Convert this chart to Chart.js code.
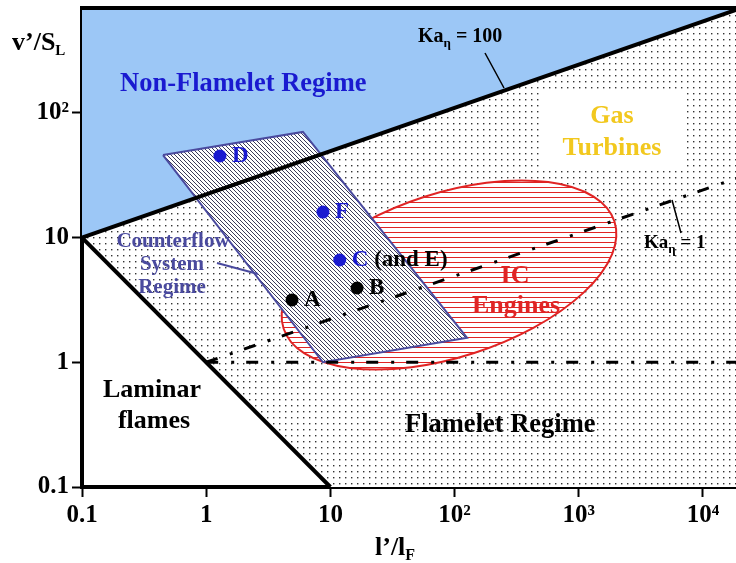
<!DOCTYPE html>
<html>
<head>
<meta charset="utf-8">
<script src="https://cdn.jsdelivr.net/npm/chart.js@4.4.1/dist/chart.umd.min.js"></script>
<style>
  body { margin: 0; background: #fff; }
  canvas { display: block; }
</style>
</head>
<body>
<canvas id="regime" width="736" height="563"></canvas>
<script>
// axis ranges and ticks (both axes logarithmic)
const xRange = [0.1, 18450];
const yRange = [0.1, 693];
const xTickValues = [0.1, 1, 10, 100, 1000, 10000];
const xTickLabels = ["0.1", "1", "10", "10²", "10³", "10⁴"];
const yTickValues = [0.1, 1, 10, 100];
const yTickLabels = ["0.1", "1", "10", "10²"];

// regime boundaries
const ka100Line = [[0.1, 10], [18450, 668]];
const laminarLine = [[0.1, 10], [10, 0.1]];
const ka1Line = [[1, 1], [18450, 29.8]];
const unityLine = [[1, 1], [18450, 1]];

// counterflow system regime corners
const counterflowBox = [[0.449, 45.9], [6.01, 70.3], [126, 1.57], [8.71, 1.0]];

// IC engines ellipse: centre, half axes in decades, tilt in degrees
const icCentre = [90.2, 5.01];
const icAxes = [1.40, 0.66];
const icTilt = 17.9;

// experiment points
const pointNames = ["A", "B", "C", "D", "F"];
const pointX = [4.91, 16.4, 11.9, 1.29, 8.71];
const pointY = [3.16, 3.94, 6.61, 45.1, 16.0];

const BLUE = "#1a1ad0";
const SLATE = "#4a4a9e";
const RED = "#e02424";
const GOLD = "#f2c81e";
const SERIF = "'Liberation Serif', 'DejaVu Serif', serif";

const canvas = document.getElementById("regime");
const ctx = canvas.getContext("2d");

function makePattern(size, draw) {
  const c = document.createElement("canvas");
  c.width = size;
  c.height = size;
  const g = c.getContext("2d");
  g.fillStyle = "#fff";
  g.fillRect(0, 0, size, size);
  draw(g, size);
  return ctx.createPattern(c, "repeat");
}

const dotFill = makePattern(6, (g) => {
  g.fillStyle = "#333";
  g.fillRect(3, 3, 1.4, 1.4);
});
const stripeFill = makePattern(4, (g, s) => {
  g.strokeStyle = "#3c3c58";
  g.lineWidth = 1;
  g.beginPath();
  g.moveTo(-1, -1); g.lineTo(s + 1, s + 1);
  g.moveTo(-1, s - 1); g.lineTo(1, s + 1);
  g.moveTo(s - 1, -1); g.lineTo(s + 1, 1);
  g.stroke();
});
const redLines = makePattern(5, (g, s) => {
  g.fillStyle = RED;
  g.fillRect(0, 2, s, 1);
});

const toXY = (arr) => arr.map(p => ({ x: p[0], y: p[1] }));

// text with sub-scripts, pieces = [text, size, dy]
function richText(c, x, y, pieces, color) {
  c.fillStyle = color;
  c.textAlign = "left";
  c.textBaseline = "alphabetic";
  let cx = x;
  pieces.forEach(([t, size, dy]) => {
    c.font = "bold " + size + "px " + SERIF;
    c.fillText(t, cx, y + (dy || 0));
    cx += c.measureText(t).width;
  });
}

function centred(c, text, x, y, size, color) {
  c.font = "bold " + size + "px " + SERIF;
  c.fillStyle = color;
  c.textAlign = "center";
  c.textBaseline = "alphabetic";
  c.fillText(text, x, y);
}

const noPadding = (s) => {
  s.paddingTop = 0; s.paddingBottom = 0; s.paddingLeft = 0; s.paddingRight = 0;
};

const icPlugin = {
  id: "icEngines",
  afterDatasetDraw(chart, args) {
    if (chart.data.datasets[args.index].label !== "Flamelet Regime") return;
    const xs = chart.scales.x, ys = chart.scales.y, a = chart.chartArea;
    const c = chart.ctx;
    const cx = xs.getPixelForValue(icCentre[0]);
    const cy = ys.getPixelForValue(icCentre[1]);
    const dec = xs.getPixelForValue(10) - xs.getPixelForValue(1);
    c.save();
    c.beginPath();
    c.rect(a.left, a.top, a.right - a.left, a.bottom - a.top);
    c.clip();
    c.beginPath();
    c.ellipse(cx, cy, icAxes[0] * dec, icAxes[1] * dec, -icTilt * Math.PI / 180, 0, 2 * Math.PI);
    c.fillStyle = redLines;
    c.fill();
    c.strokeStyle = RED;
    c.lineWidth = 2;
    c.stroke();
    c.restore();
  }
};

const labelPlugin = {
  id: "labels",
  afterDraw(chart) {
    const c = chart.ctx, a = chart.chartArea;
    c.save();
    // top frame
    c.strokeStyle = "#000";
    c.lineWidth = 4;
    c.beginPath();
    c.moveTo(a.left - 2, a.top);
    c.lineTo(a.right, a.top);
    c.stroke();

    // pointer lines
    c.lineWidth = 1.5;
    c.beginPath();
    c.moveTo(485, 53); c.lineTo(504, 88);
    c.moveTo(672, 200); c.lineTo(681, 233);
    c.stroke();
    c.strokeStyle = SLATE;
    c.lineWidth = 2;
    c.beginPath();
    c.moveTo(217, 263); c.lineTo(258, 274);
    c.stroke();

    // gas turbine label box
    c.fillStyle = "#fff";
    c.fillRect(541, 93, 142, 78);

    richText(c, 12, 50, [["v’/S", 26], ["L", 15, 5]], "#000");
    richText(c, 375, 555, [["l’/l", 26], ["F", 16, 5]], "#000");
    richText(c, 418, 42, [["Ka", 20], ["η", 13, 5], [" = 100", 20]], "#000");
    richText(c, 644, 248, [["Ka", 19], ["η", 13, 5], [" = 1", 19]], "#000");

    richText(c, 120, 91, [["Non-Flamelet Regime", 26.5]], BLUE);
    centred(c, "Gas", 612, 123, 26, GOLD);
    centred(c, "Turbines", 612, 155, 26, GOLD);
    centred(c, "IC", 515, 283, 26, RED);
    centred(c, "Engines", 516, 313, 26, RED);
    centred(c, "Counterflow", 173, 247, 21, SLATE);
    centred(c, "System", 172, 270, 21, SLATE);
    centred(c, "Regime", 172, 293, 21, SLATE);
    centred(c, "Laminar", 152, 397, 26, "#000");
    centred(c, "flames", 154, 428, 26, "#000");
    richText(c, 405, 432, [["Flamelet Regime", 26.5]], "#000");

    // point labels
    const meta = chart.getDatasetMeta(chart.data.datasets.findIndex(d => d.label === "points"));
    meta.data.forEach((el, i) => {
      const name = pointNames[i];
      const col = (name === "A" || name === "B") ? "#000" : BLUE;
      richText(c, el.x + 12, el.y + 6, [[name, 23]], col);
      if (name === "C") {
        c.font = "bold 23px " + SERIF;
        const w = c.measureText("C").width;
        richText(c, el.x + 12 + w, el.y + 6, [[" (and E)", 23]], "#000");
      }
    });
    c.restore();
  }
};

const lineStyle = { showLine: true, pointRadius: 0, fill: false, borderColor: "#000", tension: 0 };

new Chart(ctx, {
  type: "scatter",
  data: {
    datasets: [
      { label: "points", order: 1,
        data: pointX.map((x, i) => ({ x: x, y: pointY[i] })),
        pointRadius: 6.5, pointHoverRadius: 6.5, borderWidth: 0,
        backgroundColor: pointNames.map(n => (n === "A" || n === "B") ? "#000" : BLUE) },
      Object.assign({ label: "Ka=1", order: 3, data: toXY(ka1Line), borderWidth: 3, borderDash: [12, 13, 3, 12] }, lineStyle),
      Object.assign({ label: "unity", order: 3, data: toXY(unityLine), borderWidth: 3, borderDash: [12, 13, 3, 12] }, lineStyle),
      Object.assign({ label: "Ka=100", order: 4, data: toXY(ka100Line), borderWidth: 4 }, lineStyle),
      Object.assign({ label: "laminar", order: 4, data: toXY(laminarLine), borderWidth: 4 }, lineStyle),
      { label: "Counterflow", order: 6, showLine: true, pointRadius: 0, tension: 0,
        data: toXY(counterflowBox.concat([counterflowBox[0]])),
        borderColor: SLATE, borderWidth: 2, backgroundColor: stripeFill, fill: "shape" },
      { label: "Flamelet Regime", order: 8, showLine: true, pointRadius: 0, tension: 0,
        data: toXY([ka100Line[0], ka100Line[1], [xRange[1], yRange[0]], laminarLine[1]]),
        borderWidth: 0, backgroundColor: dotFill, fill: "shape" },
      { label: "Non-Flamelet Regime", order: 9, showLine: true, pointRadius: 0, tension: 0,
        data: toXY([ka100Line[0], [xRange[0], yRange[1]], [xRange[1], yRange[1]], ka100Line[1]]),
        borderWidth: 0, backgroundColor: "#9cc7f6", fill: "shape" }
    ]
  },
  options: {
    responsive: false,
    animation: false,
    devicePixelRatio: 1,
    layout: { autoPadding: false, padding: { top: 8, right: 0, left: 0, bottom: 0 } },
    plugins: { legend: { display: false }, tooltip: { enabled: false } },
    scales: {
      x: {
        type: "logarithmic", min: xRange[0], max: xRange[1],
        afterBuildTicks: s => { s.ticks = xTickValues.map(v => ({ value: v })); },
        afterFit: s => { s.height = 76; noPadding(s); },
        ticks: {
          autoSkip: false, maxRotation: 0, padding: 4, color: "#000",
          font: { family: SERIF, size: 25, weight: "bold" },
          callback: v => xTickLabels[xTickValues.indexOf(v)]
        },
        grid: { drawOnChartArea: false, tickLength: 10, tickWidth: 2, tickColor: "#000" },
        border: { color: "#000", width: 4 }
      },
      y: {
        type: "logarithmic", min: yRange[0], max: yRange[1],
        afterBuildTicks: s => { s.ticks = yTickValues.map(v => ({ value: v })); },
        afterFit: s => { s.width = 82; noPadding(s); },
        ticks: {
          autoSkip: false, padding: 3, color: "#000",
          font: { family: SERIF, size: 25, weight: "bold" },
          callback: v => yTickLabels[yTickValues.indexOf(v)]
        },
        grid: { drawOnChartArea: false, tickLength: 10, tickWidth: 2, tickColor: "#000" },
        border: { color: "#000", width: 4 }
      }
    }
  },
  plugins: [icPlugin, labelPlugin]
});
</script>
</body>
</html>
